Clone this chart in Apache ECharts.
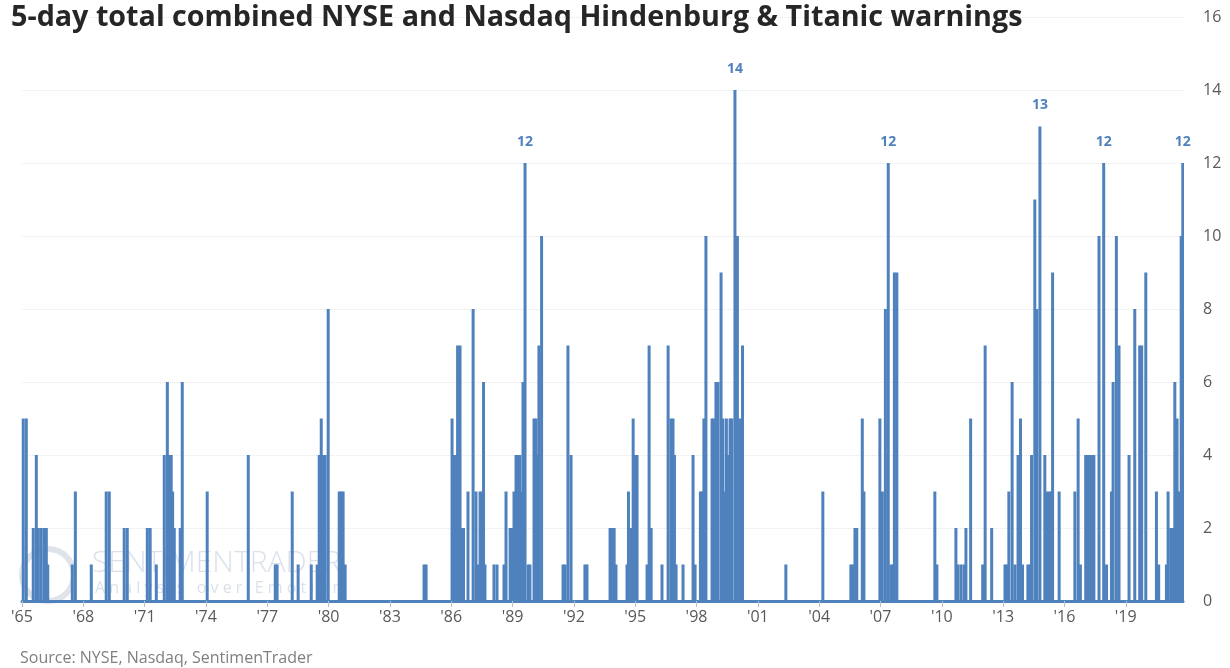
<!DOCTYPE html>
<html>
<head>
<meta charset="utf-8">
<title>Hindenburg & Titanic warnings</title>
<script src="https://cdn.jsdelivr.net/npm/echarts@6/dist/echarts.min.js"></script>
<style>
  html, body { margin: 0; padding: 0; background: #fff; }
  #chart { width: 1230px; height: 668px; }
</style>
</head>
<body>
<div id="chart"></div>
<script>
// decimal year of each non-zero 5-day reading, and its total
var warningDates = [
  1965.06, 1965.21, 1965.55, 1965.70, 1965.80, 1965.94, 1966.09, 1966.19, 1966.26,
  1967.46, 1967.61, 1968.39, 1969.12, 1969.27, 1970.00, 1970.15,
  1971.13, 1971.27, 1971.57, 1971.96, 1972.11, 1972.20, 1972.30, 1972.37, 1972.45,
  1972.74, 1972.84, 1974.06, 1976.07, 1977.39, 1977.48, 1978.22, 1978.51,
  1979.15, 1979.44, 1979.54, 1979.64, 1979.73, 1979.83, 1979.98,
  1980.52, 1980.61, 1980.71, 1980.81, 1984.67, 1984.77,
  1986.04, 1986.14, 1986.24, 1986.31, 1986.43, 1986.53, 1986.60, 1986.82,
  1987.07, 1987.21, 1987.31, 1987.41, 1987.51, 1987.58, 1987.65,
  1988.09, 1988.24, 1988.58, 1988.68, 1988.88, 1988.97,
  1989.07, 1989.17, 1989.27, 1989.36, 1989.44, 1989.51, 1989.61, 1989.76, 1989.85,
  1990.05, 1990.15, 1990.22, 1990.29, 1990.42,
  1991.47, 1991.57, 1991.71, 1991.86, 1992.54, 1992.64,
  1993.77, 1993.87, 1993.97, 1994.06, 1994.60, 1994.67, 1994.80, 1994.90, 1994.99, 1995.09,
  1995.58, 1995.68, 1995.78, 1996.31, 1996.61, 1996.75, 1996.85, 1996.92, 1997.00,
  1997.34, 1997.83, 1997.93, 1998.19, 1998.27, 1998.36, 1998.46,
  1998.76, 1998.85, 1998.95, 1999.05, 1999.20, 1999.29, 1999.37, 1999.46, 1999.56,
  1999.64, 1999.73, 1999.88, 2000.00, 2000.12, 2000.25,
  2002.37, 2004.18, 2005.55, 2005.65, 2005.75, 2005.84, 2006.11, 2006.19,
  2006.97, 2007.09, 2007.24, 2007.38, 2007.51, 2007.61, 2007.68, 2007.80,
  2009.66, 2009.76, 2010.69, 2010.79, 2010.94, 2011.09, 2011.18, 2011.41,
  2012.00, 2012.12, 2012.44,
  2013.09, 2013.19, 2013.28, 2013.44, 2013.58, 2013.73, 2013.85, 2013.95,
  2014.21, 2014.31, 2014.39, 2014.55, 2014.65, 2014.80,
  2015.04, 2015.14, 2015.26, 2015.37, 2015.42, 2015.74,
  2016.51, 2016.67, 2016.78, 2017.04, 2017.14, 2017.24, 2017.34, 2017.44, 2017.69, 2017.92,
  2018.06, 2018.30, 2018.38, 2018.54, 2018.67,
  2019.16, 2019.44, 2019.68, 2019.78, 2019.98, 2020.50, 2020.61,
  2020.99, 2021.07, 2021.20, 2021.30, 2021.40, 2021.51, 2021.61, 2021.71, 2021.79
];
var warningCounts = [
  5, 5, 2, 4, 2, 2, 2, 2, 1,
  1, 3, 1, 3, 3, 2, 2,
  2, 2, 1, 4, 6, 4, 4, 3, 2,
  2, 6, 3, 4, 1, 1, 3, 1,
  1, 1, 4, 5, 4, 4, 8,
  3, 3, 3, 1, 1, 1,
  5, 4, 4, 7, 7, 2, 2, 3,
  8, 3, 1, 3, 3, 6, 1,
  1, 1, 1, 3, 2, 2,
  3, 4, 4, 4, 3, 6, 12, 1, 1,
  5, 5, 4, 7, 10,
  1, 1, 7, 4, 1, 1,
  2, 2, 2, 1, 1, 3, 2, 5, 4, 4,
  1, 7, 2, 1, 7, 5, 5, 4, 1,
  1, 4, 1, 3, 3, 5, 10,
  5, 5, 6, 6, 9, 5, 3, 5, 4,
  5, 5, 14, 10, 5, 7,
  1, 3, 1, 1, 2, 2, 5, 3,
  5, 3, 8, 12, 1, 1, 9, 9,
  3, 1, 2, 1, 1, 1, 2, 5,
  1, 7, 2,
  1, 1, 3, 6, 1, 4, 5, 1,
  1, 1, 4, 11, 8, 13,
  4, 3, 3, 3, 9, 3,
  3, 5, 1, 4, 4, 4, 4, 4, 10, 12,
  1, 3, 6, 10, 7,
  4, 8, 7, 7, 9, 3, 1,
  1, 3, 2, 2, 6, 5, 3, 10, 12
];
// peaks that carry a value label
var labelledPeaks = [1989.61, 1999.88, 2007.38, 2014.80, 2017.92, 2021.79];
var yTicks = [0, 16, 2];
var xStartYear = 1965, xEndYear = 2021.8, xStep = 3;

var blue = '#4F81BD';
var chart = echarts.init(document.getElementById('chart'));

var seriesData = warningDates.map(function (d, i) {
  var item = { value: [d, warningCounts[i]] };
  if (labelledPeaks.indexOf(d) >= 0) {
    item.label = { show: true };
  }
  return item;
});

chart.setOption({
  animation: false,
  grid: { left: 22, right: 47, top: 17, bottom: 67 },
  title: [
    {
      text: '5-day total combined NYSE and Nasdaq Hindenburg & Titanic warnings',
      left: 6, top: -2,
      textStyle: { fontFamily: 'Open Sans', fontWeight: 'bold', fontSize: 28.7, color: '#262626' }
    },
    {
      text: 'Source: NYSE, Nasdaq, SentimenTrader',
      left: 15, top: 645,
      textStyle: { fontFamily: 'Open Sans', fontWeight: 'normal', fontSize: 16, color: '#7f7f7f' }
    }
  ],
  graphic: [
    {
      type: 'text', left: 92, top: 548, silent: true, z: 0,
      style: { text: 'SENTIMENTRADER', font: '300 30px "Open Sans"', fill: 'rgba(150,170,195,0.35)' }
    },
    {
      type: 'text', left: 95, top: 580, silent: true, z: 0,
      style: { text: 'A n a l y s i s   o v e r   E m o t i o n', font: '16px "Open Sans"', fill: 'rgba(150,170,195,0.35)' }
    },
    {
      type: 'circle', shape: { cx: 48, cy: 575, r: 26 }, silent: true, z: 0,
      style: { fill: 'none', stroke: 'rgba(150,165,185,0.3)', lineWidth: 6 }
    }
  ],
  xAxis: {
    type: 'value',
    min: xStartYear, max: xEndYear, interval: xStep,
    splitLine: { show: false },
    axisLine: { show: true, onZero: false, lineStyle: { color: blue, width: 3 } },
    axisTick: { show: true, length: 6, lineStyle: { color: '#bfbfbf', width: 1 } },
    axisLabel: {
      margin: 8, color: '#595959', fontFamily: 'Open Sans', fontSize: 16,
      showMaxLabel: false,
      formatter: function (v) { return "'" + String(Math.round(v)).slice(2); }
    }
  },
  yAxis: {
    type: 'value', position: 'right',
    min: yTicks[0], max: yTicks[1], interval: yTicks[2],
    axisLine: { show: false },
    axisTick: { show: false },
    splitLine: { show: true, lineStyle: { color: '#e6e6e6', type: 'dotted', width: 1 } },
    axisLabel: { margin: 20, color: '#595959', fontFamily: 'Open Sans', fontSize: 16 }
  },
  series: [{
    type: 'bar',
    barWidth: 3,
    data: seriesData,
    itemStyle: { color: blue },
    label: {
      show: false, position: 'top', distance: 14,
      color: blue, fontWeight: 'bold', fontFamily: 'Open Sans', fontSize: 14,
      formatter: function (p) { return p.value[1]; }
    }
  }]
});
</script>
</body>
</html>
